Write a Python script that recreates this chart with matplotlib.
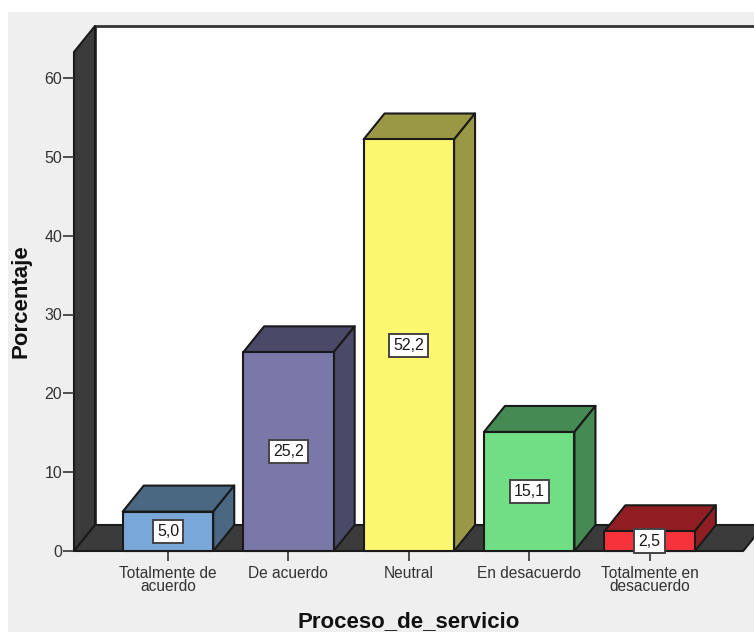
import matplotlib
matplotlib.use("Agg")
import matplotlib.pyplot as plt
from matplotlib.patches import Polygon, Rectangle

categories = ["Totalmente de\nacuerdo", "De acuerdo", "Neutral", "En desacuerdo", "Totalmente en\ndesacuerdo"]
values = [5.0, 25.2, 52.2, 15.1, 2.5]
value_labels = ["5,0", "25,2", "52,2", "15,1", "2,5"]
y_ticks = [0, 10, 20, 30, 40, 50, 60]
front_colors = ["#79A8D8", "#7A78A8", "#FBF76E", "#70DE84", "#F6333B"]
shade_colors = ["#4A6882", "#4A4A68", "#9B9845", "#448A52", "#911E22"]

W, H = 754, 632
plt.rcParams["font.family"] = ["Liberation Sans", "DejaVu Sans"]
fig = plt.figure(figsize=(W / 100, H / 100), dpi=100, facecolor="white")

# Grey panel behind the chart, leaving a thin white margin top and left
fig.patches.append(Rectangle((8 / W, 0), 1, 1 - 12 / H, transform=fig.transFigure,
                             facecolor="#EFEFEF", edgecolor="none", zorder=-5))

# Axes box runs from the front edge of the left wall to the figure edge
ax = fig.add_axes([74 / W, (H - 551) / H, (W - 74) / W, (551 - 52) / H])
ax.patch.set_visible(False)
unit_x = 120.4            # pixels per category
unit_y = 473 / 60         # pixels per percentage point
ax.set_xlim((74 - 168) / unit_x, (754 - 168) / unit_x)
ax.set_ylim(0, 499 / unit_y)
for s in ax.spines.values():
    s.set_visible(False)

depth_x = 21 / unit_x
depth_y = 26 / unit_y
bar_w = 90.5 / unit_x
x0, x1 = ax.get_xlim()
ymax = ax.get_ylim()[1]
edge = "#1A1A1A"
wall = "#3B3B3B"


def poly(points, face, z, lw=1.5, ec=edge):
    ax.add_patch(Polygon(points, closed=True, facecolor=face, edgecolor=ec,
                         linewidth=lw, zorder=z, clip_on=False, joinstyle="round"))


# Back wall, side wall and floor of the 3D frame
poly([(x0 + depth_x, depth_y), (x1 + 1, depth_y), (x1 + 1, ymax + depth_y), (x0 + depth_x, ymax + depth_y)],
     "white", 1, lw=2.0, ec="#333333")
poly([(x0, 0), (x0 + depth_x, depth_y), (x0 + depth_x, ymax + depth_y), (x0, ymax)], wall, 1.2)
poly([(x0, 0), (x1 - 0.09, 0), (x1 - 0.09 + depth_x, depth_y), (x0 + depth_x, depth_y)], wall, 1.2)

# Extruded bars: shaded top and side faces, then the front face
for i, (v, fc, sc) in enumerate(zip(values, front_colors, shade_colors)):
    l, r = i - bar_w / 2, i + bar_w / 2
    poly([(l, v), (r, v), (r + depth_x, v + depth_y), (l + depth_x, v + depth_y)], sc, 3)
    poly([(r, 0), (r + depth_x, depth_y), (r + depth_x, v + depth_y), (r, v)], sc, 3)
    poly([(l, 0), (r, 0), (r, v), (l, v)], fc, 3.1)

# Boxed value labels centred on each front face
for i, (v, lab) in enumerate(zip(values, value_labels)):
    ax.text(i, v / 2, lab, ha="center", va="center", fontsize=11.5, color="#1A1A1A", zorder=6,
            bbox=dict(boxstyle="square,pad=0.26", facecolor="white", edgecolor="#444444", linewidth=1.4))

ax.set_xticks(range(len(categories)))
ax.set_xticklabels(categories, fontsize=11.2, color="#333333", linespacing=0.88)
ax.set_yticks(y_ticks)
ax.set_yticklabels([str(t) for t in y_ticks], fontsize=11.5, color="#333333")
ax.tick_params(axis="x", length=7, width=1.2, color="#333333", pad=3.5)
ax.tick_params(axis="y", length=8, width=1.2, color="#333333", pad=0.5)

fig.text(408.5 / W, 1 - 622 / H, "Proceso_de_servicio", ha="center", va="center",
         fontsize=16, fontweight="bold", color="#111111")
fig.text(21 / W, 1 - 301 / H, "Porcentaje", ha="center", va="center", rotation=90,
         fontsize=16, fontweight="bold", color="#111111")

fig.savefig("out.png", dpi=100)
